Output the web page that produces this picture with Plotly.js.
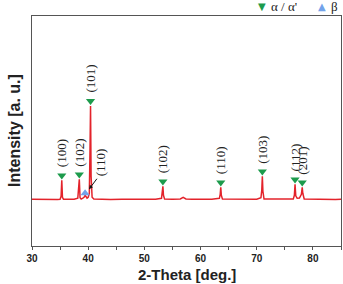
<!DOCTYPE html>
<html>
<head>
<meta charset="utf-8">
<script src="https://cdn.plot.ly/plotly-3.0.1.min.js"></script>
<style>
  html, body { margin: 0; padding: 0; background: #fff; }
  #plot { width: 343px; height: 284px; }
</style>
</head>
<body>
<div id="plot"></div>
<script>
// XRD pattern: 2-theta (deg) and intensity (a.u.)
const twoTheta = [30, 31.5, 33, 34.5, 35.0, 35.18, 35.3, 35.42, 35.6, 36.5, 37.5, 38.15, 38.3, 38.42, 38.55, 38.75,
  39.05, 39.3, 39.45, 39.6, 39.8, 40.0, 40.2, 40.32, 40.42, 40.52, 40.7, 41.0, 42, 44, 46, 48, 50, 52, 53.05, 53.2,
  53.3, 53.4, 53.6, 55, 56.4, 56.9, 57.4, 58.5, 60, 62, 63.35, 63.5, 63.6, 63.7, 63.9, 66, 68, 70, 70.75, 70.9, 71.0,
  71.1, 71.3, 73, 75, 76.5, 76.7, 76.82, 76.95, 77.2, 77.6, 77.95, 78.1, 78.2, 78.45, 80, 82, 84, 85];
const intensity = [100, 98, 102, 99, 101, 130, 290, 120, 101, 98, 100, 110, 280, 300, 115, 102,
  112, 122, 140, 128, 112, 120, 160, 560, 1030, 330, 120, 102, 100, 98, 101, 99, 102, 100, 110, 160,
  230, 140, 102, 100, 104, 120, 103, 100, 99, 101, 110, 150, 220, 140, 102, 100, 99, 101, 115, 190, 330,
  180, 102, 100, 99, 102, 140, 250, 135, 110, 112, 150, 220, 160, 103, 100, 101, 99, 100];

// alpha / alpha' reflections: position, peak top, Miller indices
const alphaPos = [35.3, 38.42, 40.42, 53.3, 63.6, 71.0, 76.82, 78.1];
const alphaTop = [290, 300, 1030, 230, 220, 330, 250, 220];
const alphaHkl = ['(100)', '(102)', '(101)', '(102)', '(110)', '(103)', '(112)', '(201)'];

// beta reflection
const betaPos = [39.45];
const betaTop = [140];
const betaHkl = ['(110)'];

const markerLift = 48;   // triangle sits just above the peak top
const red = '#e3232b';
const green = '#1d9b4c';
const blue = '#73a3ea';

const traces = [
  {
    x: twoTheta, y: intensity, type: 'scatter', mode: 'lines',
    line: { color: red, width: 1.5 }, hoverinfo: 'skip'
  },
  {
    x: alphaPos, y: alphaTop.map(v => v + markerLift), type: 'scatter', mode: 'markers',
    marker: { symbol: 'triangle-down', size: 8, color: green }
  },
  {
    x: betaPos, y: betaTop.map(v => v + 20), type: 'scatter', mode: 'markers',
    marker: { symbol: 'triangle-up', size: 8, color: blue }
  }
];

const serif = 'Liberation Serif, Times New Roman, serif';
const sans = 'Liberation Sans, Arial, sans-serif';
const annotations = alphaPos.map((x, i) => ({
  x: x, y: alphaTop[i] + markerLift, xref: 'x', yref: 'y',
  text: alphaHkl[i], textangle: -90, showarrow: false,
  xanchor: 'center', yanchor: 'bottom', yshift: 6,
  font: { family: serif, size: 13, color: '#222' }
}));

// beta (110) label with pointer arrow
annotations.push({
  x: 40.15, y: 200, xref: 'x', yref: 'y', text: '', showarrow: true,
  ax: 9, ay: -12, arrowhead: 2, arrowsize: 0.8, arrowwidth: 1, arrowcolor: '#111'
});
annotations.push({
  x: betaPos[0], y: betaTop[0], xref: 'x', yref: 'y',
  text: betaHkl[0], textangle: -90, showarrow: false,
  xanchor: 'center', yanchor: 'bottom', xshift: 15, yshift: 17,
  font: { family: serif, size: 13, color: '#222' }
});

// phase key above the frame
const key = [
  { px: 262, text: '▼', color: green, family: 'DejaVu Sans', size: 10 },
  { px: 284, text: "α / α'", color: '#222', family: serif, size: 13 },
  { px: 322, text: '▲', color: blue, family: 'DejaVu Sans', size: 10 },
  { px: 334, text: 'β', color: '#222', family: serif, size: 13 }
];
const plotL = 32, plotW = 309;
key.forEach(k => annotations.push({
  x: (k.px - plotL) / plotW, y: 1, xref: 'paper', yref: 'paper', yanchor: 'middle', xanchor: 'center',
  yshift: 10, text: k.text, showarrow: false, font: { family: k.family, size: k.size, color: k.color }
}));

// axis titles
annotations.push({
  x: (14 - plotL) / plotW, y: 0.5, xref: 'paper', yref: 'paper', xanchor: 'center', yanchor: 'middle',
  text: '<b>Intensity [a. u.]</b>', textangle: -90, showarrow: false,
  font: { family: sans, size: 16, color: '#222' }
});
annotations.push({
  x: 0.5, y: 0, xref: 'paper', yref: 'paper', xanchor: 'center', yanchor: 'middle', yshift: -28,
  text: '<b>2-Theta [deg.]</b>', showarrow: false,
  font: { family: sans, size: 15, color: '#222' }
});

const layout = {
  width: 343, height: 284,
  margin: { l: 32, r: 2, t: 16, b: 38, autoexpand: false },
  paper_bgcolor: '#fff', plot_bgcolor: '#fff',
  showlegend: false,
  xaxis: {
    range: [30, 85], dtick: 10, tick0: 30, automargin: false,
    ticks: 'outside', ticklen: 3, tickwidth: 1, tickcolor: '#555',
    minor: { dtick: 5, ticks: 'outside', ticklen: 3, tickcolor: '#555', showgrid: false },
    showline: true, linecolor: '#555', linewidth: 1, mirror: true,
    showgrid: false, zeroline: false,
    tickfont: { family: sans, size: 10, color: '#222', weight: 'bold' }
  },
  yaxis: {
    range: [-365, 1925], automargin: false,
    showticklabels: false, ticks: '',
    showline: true, linecolor: '#555', linewidth: 1, mirror: true,
    showgrid: false, zeroline: false
  },
  annotations: annotations
};

Plotly.newPlot('plot', traces, layout, { displayModeBar: false, staticPlot: true });
</script>
</body>
</html>
